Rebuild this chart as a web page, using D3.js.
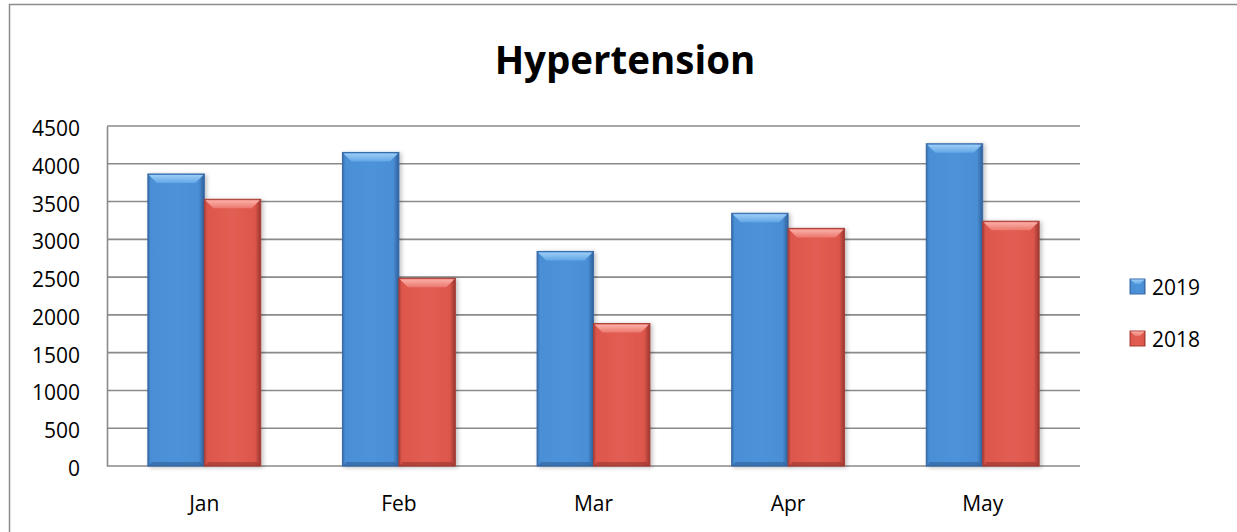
<!DOCTYPE html>
<html>
<head>
<meta charset="utf-8">
<script src="https://cdn.jsdelivr.net/npm/d3@7.9.0/dist/d3.min.js"></script>
<style>
  html, body { margin: 0; padding: 0; background: #fff; }
  svg { display: block; font-family: 'Open Sans', sans-serif; }
</style>
</head>
<body>
<div id="chart"></div>
<script>
// chart data
const months = ['Jan', 'Feb', 'Mar', 'Apr', 'May'];
const values2019 = [3865, 4150, 2840, 3345, 4265];
const values2018 = [3530, 2485, 1885, 3145, 3240];
const yTicks = [0, 500, 1000, 1500, 2000, 2500, 3000, 3500, 4000, 4500];
const seriesNames = ['2019', '2018'];

const width = 1237;
const height = 532;

const svg = d3.select('#chart')
    .append('svg')
    .attr('width', width)
    .attr('height', height);

const defs = svg.append('defs');

// colour sets for the bevelled bars
const palette = {
    '2019': { edge: '#3769a8', body: '#4a8fd6', mid: '#4d93da', top1: '#9dcdf6', top2: '#62a6e6', dark: '#2f5f99' },
    '2018': { edge: '#a83d35', body: '#dd574c', mid: '#e25d52', top1: '#fbb0a8', top2: '#ec786e', dark: '#993630' }
};

Object.entries(palette).forEach(([key, c]) => {
    const g = defs.append('linearGradient').attr('id', 'body' + key)
        .attr('x1', 0).attr('x2', 1).attr('y1', 0).attr('y2', 0);
    g.append('stop').attr('offset', '0%').attr('stop-color', c.edge);
    g.append('stop').attr('offset', '5%').attr('stop-color', c.body);
    g.append('stop').attr('offset', '50%').attr('stop-color', c.mid);
    g.append('stop').attr('offset', '90%').attr('stop-color', c.body);
    g.append('stop').attr('offset', '100%').attr('stop-color', c.dark);

    const t = defs.append('linearGradient').attr('id', 'top' + key)
        .attr('x1', 0).attr('x2', 0).attr('y1', 0).attr('y2', 1);
    t.append('stop').attr('offset', '0%').attr('stop-color', c.top1);
    t.append('stop').attr('offset', '100%').attr('stop-color', c.top2);
});

const shadow = defs.append('filter').attr('id', 'shadow')
    .attr('x', '-20%').attr('y', '-20%').attr('width', '140%').attr('height', '140%');
shadow.append('feDropShadow')
    .attr('dx', 2).attr('dy', 1).attr('stdDeviation', 2)
    .attr('flood-color', '#000').attr('flood-opacity', 0.25);

// outer frame
svg.append('path')
    .attr('d', `M9.5,${height} V4.5 H${width}`)
    .attr('fill', 'none')
    .attr('stroke', '#8c8c8c')
    .attr('stroke-width', 1.5);

// title
svg.append('text')
    .attr('x', 625)
    .attr('y', 74)
    .attr('text-anchor', 'middle')
    .style('font-size', '38.5px')
    .style('font-weight', 'bold')
    .text('Hypertension');

const plot = { left: 107, right: 1080, top: 126, bottom: 466 };

const xScale = d3.scaleBand()
    .domain(months)
    .range([plot.left, plot.right])
    .paddingInner(0.42)
    .paddingOuter(0.21);

const xSub = d3.scaleBand()
    .domain(seriesNames)
    .range([0, xScale.bandwidth()]);

const yScale = d3.scaleLinear()
    .domain([0, 4500])
    .range([plot.bottom, plot.top]);

// gridlines
svg.append('g')
    .attr('class', 'gridlines')
    .selectAll('line')
    .data(yTicks)
    .join('line')
    .attr('x1', plot.left)
    .attr('x2', plot.right)
    .attr('y1', d => yScale(d))
    .attr('y2', d => yScale(d))
    .attr('stroke', '#8a8a8a')
    .attr('stroke-width', 1.6);

// y axis line + labels
const yAxis = svg.append('g')
    .attr('transform', `translate(${plot.left}, 0)`)
    .call(d3.axisLeft(yScale).tickValues(yTicks).tickFormat(d3.format('d')).tickSize(0).tickPadding(27));
yAxis.select('.domain').attr('stroke', '#8a8a8a').attr('stroke-width', 1.6);
yAxis.selectAll('text')
    .style('font-size', '21px')
    .style('font-family', "'Open Sans', sans-serif")
    .attr('fill', '#000')
    .attr('dy', '0.45em');

// x axis labels
const xAxis = svg.append('g')
    .attr('transform', `translate(0, ${plot.bottom})`)
    .call(d3.axisBottom(xScale).tickSize(0).tickPadding(30));
xAxis.select('.domain').remove();
xAxis.selectAll('text')
    .style('font-size', '21px')
    .style('font-family', "'Open Sans', sans-serif")
    .attr('fill', '#000');

// bars
const rows = months.map((m, i) => ({ month: m, values: [
    { key: '2019', value: values2019[i] },
    { key: '2018', value: values2018[i] }
] }));

const bevel = 9;
const groups = svg.append('g').attr('class', 'bars')
    .selectAll('g')
    .data(rows)
    .join('g')
    .attr('transform', d => `translate(${xScale(d.month)}, 0)`);

const bar = groups.selectAll('g')
    .data(d => d.values)
    .join('g')
    .attr('transform', d => `translate(${xSub(d.key)}, 0)`);

bar.append('rect')
    .attr('x', 0)
    .attr('y', d => yScale(d.value))
    .attr('width', xSub.bandwidth())
    .attr('height', d => yScale(0) - yScale(d.value))
    .attr('fill', d => `url(#body${d.key})`)
    .attr('stroke', d => palette[d.key].edge)
    .attr('stroke-width', 1)
    .attr('filter', 'url(#shadow)');

// lighter top bevel
bar.append('path')
    .attr('d', d => {
        const y = yScale(d.value);
        const w = xSub.bandwidth();
        return `M1,${y + 1} H${w - 1} L${w - bevel},${y + bevel} H${bevel} Z`;
    })
    .attr('fill', d => `url(#top${d.key})`);

// darker bottom bevel
bar.append('path')
    .attr('d', d => {
        const y = yScale(0);
        const w = xSub.bandwidth();
        return `M0.5,${y} H${w - 0.5} L${w - 4},${y - 4} H4 Z`;
    })
    .attr('fill', d => palette[d.key].dark)
    .attr('opacity', 0.6);

// legend
const legend = svg.append('g')
    .attr('class', 'legend')
    .selectAll('g')
    .data(seriesNames)
    .join('g')
    .attr('transform', (d, i) => `translate(1130, ${279 + i * 52})`);

legend.append('rect')
    .attr('width', 15)
    .attr('height', 15)
    .attr('fill', d => `url(#body${d})`)
    .attr('stroke', d => palette[d].edge);

legend.append('path')
    .attr('d', 'M0.5,0.5 H14.5 L10,5 H5 Z')
    .attr('fill', d => `url(#top${d})`);

legend.append('text')
    .attr('x', 22)
    .attr('y', 16)
    .style('font-size', '21px')
    .text(d => d);
</script>
</body>
</html>
